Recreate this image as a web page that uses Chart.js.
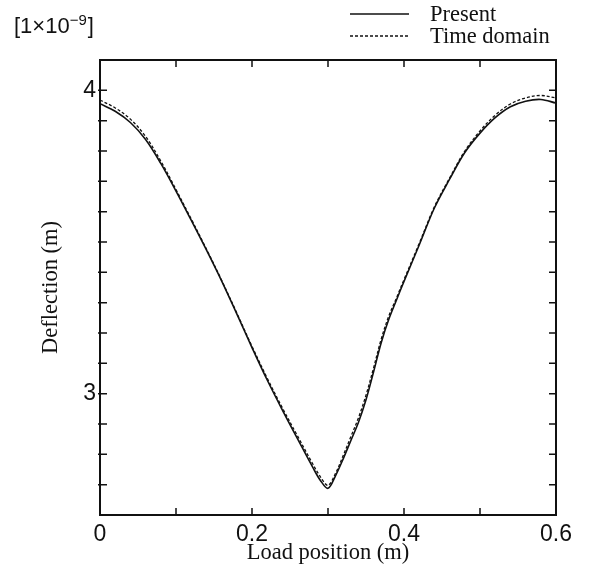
<!DOCTYPE html>
<html>
<head>
<meta charset="utf-8">
<script src="https://cdn.jsdelivr.net/npm/chart.js@4.4.1/dist/chart.umd.min.js"></script>
<style>
  html, body { margin: 0; padding: 0; background: #fff; }
  #wrap { width: 596px; height: 576px; }
</style>
</head>
<body>
<div id="wrap"><canvas id="c" width="596" height="576"></canvas></div>
<script>
// load position (m)
const loadPos = [0, 0.02, 0.04, 0.06, 0.08, 0.10, 0.12, 0.14, 0.16, 0.18, 0.20, 0.22, 0.24, 0.26, 0.28, 0.29,
  0.30, 0.31, 0.32, 0.33, 0.34, 0.35, 0.36, 0.37, 0.38, 0.39, 0.40, 0.42, 0.44, 0.46, 0.48, 0.50, 0.52, 0.54, 0.56, 0.58, 0.60];
// deflection, units of 1e-9 m
const present = [3.956, 3.931, 3.894, 3.838, 3.759, 3.668, 3.572, 3.474, 3.372, 3.263, 3.152, 3.045, 2.946, 2.851, 2.757, 2.714,
  2.688, 2.730, 2.785, 2.845, 2.905, 2.980, 3.072, 3.168, 3.245, 3.308, 3.370, 3.490, 3.612, 3.707, 3.795, 3.859, 3.910, 3.946, 3.964, 3.970, 3.958];
const timeDomain = [3.968, 3.942, 3.905, 3.848, 3.767, 3.673, 3.576, 3.477, 3.374, 3.266, 3.156, 3.051, 2.953, 2.860, 2.768, 2.726,
  2.698, 2.738, 2.796, 2.858, 2.920, 2.995, 3.085, 3.180, 3.256, 3.315, 3.376, 3.495, 3.616, 3.711, 3.800, 3.866, 3.918, 3.955, 3.975, 3.983, 3.975];
const seriesNames = ['Present', 'Time domain'];
const xTickLabels = ['0', '0.2', '0.4', '0.6'];
const yTickLabels = ['3', '4'];

const pts = (ys) => loadPos.map((x, i) => ({ x: x, y: ys[i] }));

// frame, inward ticks, legend and exponent label
const framePlugin = {
  id: 'frame',
  afterDraw(chart) {
    const ctx = chart.ctx;
    const a = chart.chartArea;
    const xs = chart.scales.x, ys = chart.scales.y;
    ctx.save();
    ctx.strokeStyle = '#111';
    ctx.lineWidth = 2;
    ctx.strokeRect(a.left, a.top, a.right - a.left, a.bottom - a.top);
    ctx.lineWidth = 1.5;
    ctx.beginPath();
    for (let i = 1; i < 6; i++) {
      const px = xs.getPixelForValue(i / 10);
      ctx.moveTo(px, a.bottom); ctx.lineTo(px, a.bottom - 7);
      ctx.moveTo(px, a.top); ctx.lineTo(px, a.top + 7);
    }
    for (let i = 27; i < 41; i++) {
      const py = ys.getPixelForValue(i / 10);
      ctx.moveTo(a.left - 2, py); ctx.lineTo(a.left + 7, py);
      ctx.moveTo(a.right, py); ctx.lineTo(a.right - 7, py);
    }
    ctx.stroke();

    // legend
    ctx.font = '22.5px "Liberation Serif"';
    ctx.fillStyle = '#111';
    ctx.textBaseline = 'alphabetic';
    chart.data.datasets.forEach((ds, i) => {
      const y = 14 + i * 22;
      ctx.lineWidth = ds.borderWidth;
      ctx.setLineDash(ds.borderDash || []);
      ctx.beginPath();
      ctx.moveTo(350, y); ctx.lineTo(409, y);
      ctx.stroke();
      ctx.setLineDash([]);
      ctx.fillText(ds.label, 430, y + 7);
    });

    // exponent label
    ctx.font = '22px "Liberation Sans"';
    let x = 14;
    ctx.fillText('[1\u00d710', x, 33);
    x += ctx.measureText('[1\u00d710').width;
    ctx.font = '15px "Liberation Sans"';
    ctx.fillText('\u22129', x, 25);
    x += ctx.measureText('\u22129').width + 1;
    ctx.font = '22px "Liberation Sans"';
    ctx.fillText(']', x, 33);
    ctx.restore();
  }
};

new Chart(document.getElementById('c'), {
  type: 'line',
  data: {
    datasets: [
      { label: seriesNames[0], data: pts(present), borderColor: '#111', borderWidth: 1.6,
        pointRadius: 0, tension: 0.35, fill: false },
      { label: seriesNames[1], data: pts(timeDomain), borderColor: '#111', borderWidth: 1.3, borderDash: [3, 2],
        pointRadius: 0, tension: 0.35, fill: false }
    ]
  },
  options: {
    responsive: false,
    animation: false,
    layout: { padding: { top: 60, right: 40, left: 0, bottom: 0 } },
    plugins: { legend: { display: false }, tooltip: { enabled: false } },
    scales: {
      x: {
        type: 'linear', min: 0, max: 0.6,
        grid: { display: false, drawTicks: false }, border: { display: false },
        ticks: {
          stepSize: 0.2, padding: 6, color: '#111', maxRotation: 0,
          font: { family: 'Liberation Sans', size: 23 },
          callback: (v) => {
            const k = Math.round(v / 0.2);
            return Math.abs(v - k * 0.2) < 1e-6 ? xTickLabels[k] : '';
          }
        },
        title: { display: true, text: 'Load position (m)', color: '#111',
          font: { family: 'Liberation Serif', size: 22.5 }, padding: { top: 0, bottom: 9 } },
        afterFit: (s) => { s.height = 61; }
      },
      y: {
        type: 'linear', min: 2.6, max: 4.1,
        grid: { display: false, drawTicks: false }, border: { display: false },
        ticks: {
          stepSize: 0.1, padding: 4, color: '#111',
          font: { family: 'Liberation Sans', size: 23 },
          callback: (v) => {
            const k = Math.round(v);
            return Math.abs(v - k) < 1e-6 ? yTickLabels[k - 3] : '';
          }
        },
        title: { display: true, text: 'Deflection (m)', color: '#111',
          font: { family: 'Liberation Serif', size: 22.5 }, padding: { top: 38, bottom: 0 } },
        afterFit: (s) => { s.width = 100; }
      }
    }
  },
  plugins: [framePlugin]
});
</script>
</body>
</html>
